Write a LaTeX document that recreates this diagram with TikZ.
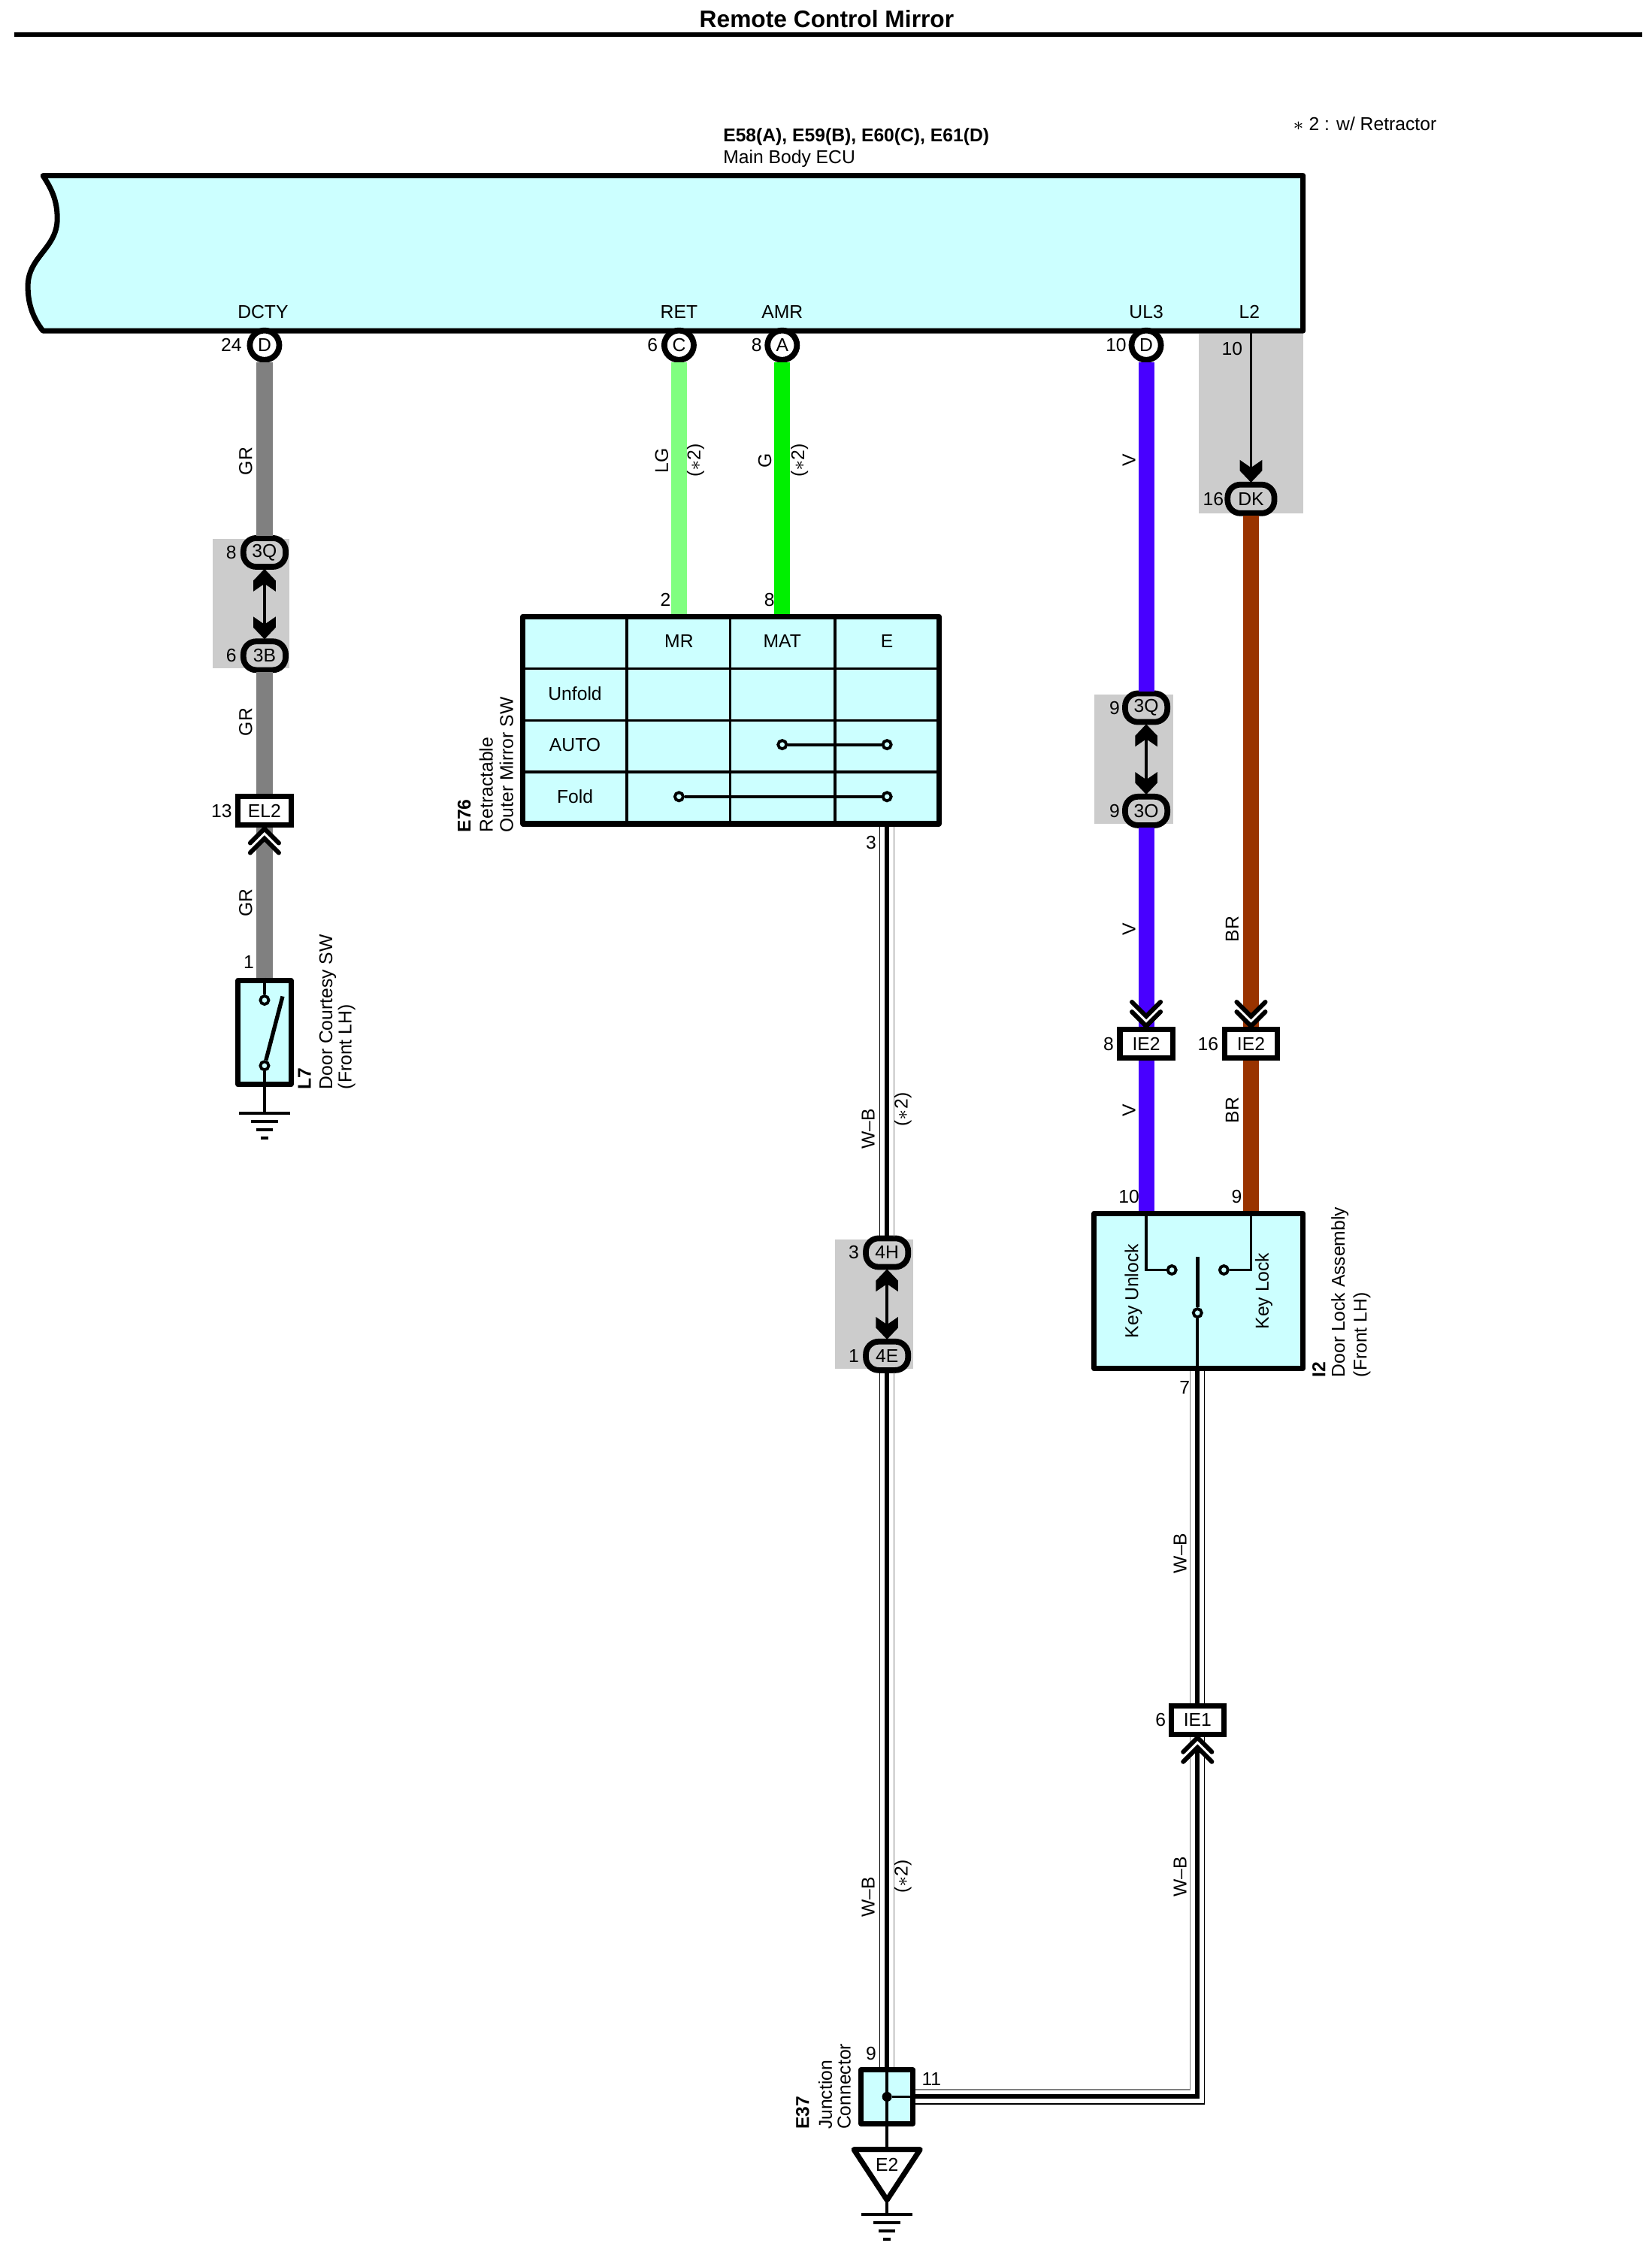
\documentclass[tikz,border=0pt]{standalone}
\usepackage{fontspec}
\setmainfont{Liberation Sans}
\usetikzlibrary{arrows.meta,calc}

\definecolor{bodycyan}{HTML}{CCFFFF}
\definecolor{jbgray}{HTML}{CCCCCC}
\definecolor{wireGR}{HTML}{808080}
\definecolor{wireLG}{HTML}{80FF80}
\definecolor{wireG}{HTML}{00F000}
\definecolor{wireV}{HTML}{4800FF}
\definecolor{wireBR}{HTML}{993300}

\pgfdeclarearrow{
	name=plughead,
	setup code={\pgfarrowssettipend{0pt}\pgfarrowssetlineend{-3pt}\pgfarrowssetbackend{-8.5pt}\pgfarrowssetvisualbackend{-5.6pt}\pgfarrowshullpoint{0pt}{0pt}},
	drawing code={
		\pgfpathmoveto{\pgfpoint{0pt}{0pt}}
		\pgfpathlineto{\pgfpoint{-4.4pt}{4.2pt}}
		\pgfpathlineto{\pgfpoint{-8.5pt}{4.2pt}}
		\pgfpathlineto{\pgfpoint{-5.6pt}{0pt}}
		\pgfpathlineto{\pgfpoint{-8.5pt}{-4.2pt}}
		\pgfpathlineto{\pgfpoint{-4.4pt}{-4.2pt}}
		\pgfpathclose
		\pgfusepathqfill
	}
}

\begin{document}
\begin{tikzpicture}[
  x=0.01cm, y=-0.01cm,
  every node/.style={font=\fontsize{7}{8}\selectfont, inner sep=0pt},
  vlbl/.style={rotate=90},
  vname/.style={rotate=90, anchor=west},
  vbold/.style={rotate=90, anchor=west, font=\fontsize{7}{8}\selectfont\bfseries},
  jbox/.style={fill=jbgray},
  outline/.style={draw, line width=2pt, fill=bodycyan, line join=round},
  grid/.style={line width=1pt},
  pin/.style={draw, circle, line width=2.2pt, fill=white, minimum size=0.39cm, outer sep=0.8pt},
  plug/.style={draw, rectangle, rounded corners=0.17cm, line width=2.2pt, fill=jbgray, minimum width=0.56cm, minimum height=0.38cm, outer sep=0.8pt},
  tagbox/.style={draw, rectangle, line width=2pt, fill=white, minimum width=0.7cm, minimum height=0.38cm},
  contact/.style={draw, circle, line width=1.1pt, fill=bodycyan, minimum size=0.11cm},
  link/.style={line width=1.1pt},
  bigwire/.style={line width=6pt},
  wbcore/.style={line width=1.7pt},
  wbblack/.style={line width=0.35pt, black},
  wbgray/.style={line width=0.35pt, gray},
  chevron/.pic={
	\fill [white] (-21,20) -- (0,0) -- (21,20) -- (21,34) -- (0,14) -- (-21,34) -- cycle;
	\draw [line width=1.7pt, line cap=round, line join=miter] (-19,20) -- (0,1) -- (19,20);
	\draw [line width=1.7pt, line cap=round, line join=miter] (-19,33) -- (0,14) -- (19,33);
  },
  earth/.pic={
	\draw [line width=1pt] (-34,0) -- (34,0);
	\draw [line width=1pt] (-18,11) -- (18,11);
	\draw [line width=1pt] (-11,22) -- (11,22);
	\draw [line width=1pt] (-5,33) -- (5,33);
  },
]

\useasboundingbox (0,0) rectangle (2192,2992);

% heading
\node [font=\fontsize{9}{10}\selectfont\bfseries] (title) at (1097,25) {Remote Control Mirror};
\draw [line width=1.7pt] (19,46) -- (2179,46);
\node [anchor=west, font=\fontsize{7}{8}\selectfont\bfseries] (ecuname) at (959,182) {E58(A), E59(B), E60(C), E61(D)};
\node [anchor=west] (ecutext) at (959,211) {Main Body ECU};
\node [anchor=west] (note) at (1715,164) {$*$ 2 : w/ Retractor};

% grey junction blocks
\fill [jbox] (282,715) rectangle (384,887);
\fill [jbox] (1591,443) rectangle (1729,681);
\fill [jbox] (1452,922) rectangle (1557,1093);
\fill [jbox] (1108,1645) rectangle (1212,1816);

% body ECU
\draw [outline] (57,233) -- (1729,233) -- (1729,439) -- (57,439)
	.. controls (42,420) and (37,400) .. (37,380)
	.. controls (37,340) and (76,330) .. (76,290)
	.. controls (76,265) and (68,250) .. (57,233) -- cycle;
\node (tDCTY) at (349,414) {DCTY};
\node (tRET) at (901,414) {RET};
\node (tAMR) at (1038,414) {AMR};
\node (tUL3) at (1521,414) {UL3};
\node (tL2) at (1658,414) {L2};
\coordinate (ecuL2) at (1660,439);

% ECU pins
\node [pin] (pD1) at (351,458) {D};
\node [pin] (pC) at (901,458) {C};
\node [pin] (pA) at (1038,458) {A};
\node [pin] (pD2) at (1521,458) {D};
\node (n24) at (307,458) {24};
\node (n6a) at (866,458) {6};
\node (n8a) at (1004,458) {8};
\node (n10a) at (1481,458) {10};
\node (n10b) at (1635,463) {10};

% left branch
\node [plug] (p3Q) at (351,733) {3Q};
\node [plug] (p3B) at (351,870) {3B};
\node [tagbox] (tEL2) at (351,1076) {EL2};
\node (n8b) at (307,733) {8};
\node (n6b) at (307,870) {6};
\node (n13) at (294,1076) {13};
\node (n1a) at (330,1277) {1};
\node [vlbl] (wGR1) at (326,612) {GR};
\node [vlbl] (wGR2) at (326,958) {GR};
\node [vlbl] (wGR3) at (326,1198) {GR};
\node [outline, draw, rectangle, minimum width=0.7cm, minimum height=1.38cm] (sL7) at (351,1370) {};
\node [contact] (cL7a) at (351,1327) {};
\node [contact] (cL7b) at (351,1414) {};
\coordinate (gL7) at (351,1477);
\coordinate (bladeL7) at (375,1322);
\node [vbold] (nL7) at (404,1446) {L7};
\node [vname] (nL7a) at (435,1446) {Door Courtesy SW};
\node [vname] (nL7b) at (460,1446) {(Front LH)};

\draw [bigwire, wireGR] (pD1.south) -- (p3Q.north);
\draw [bigwire, wireGR] (p3B.south) -- (tEL2.north);
\draw [bigwire, wireGR] (tEL2.south) -- (sL7.north);
\draw [link, {plughead}-{plughead}] (p3Q.south) -- (p3B.north);
\pic at (tEL2.south) {chevron};
\draw [link] (sL7.north) -- (cL7a.north);
\draw [link, line width=1.5pt] (cL7b) -- (bladeL7);
\draw [link] (cL7b.south) -- (gL7);
\pic at (gL7) {earth};

% retractable mirror switch
\node [outline, draw, rectangle, minimum width=5.52cm, minimum height=2.75cm] (e76) at (970,955.5) {};
\draw [grid] (832,820) -- (832,1091);
\draw [grid] (969,820) -- (969,1091);
\draw [grid] (1108,820) -- (1108,1091);
\draw [grid] (696,887) -- (1244,887);
\draw [grid] (696,956) -- (1244,956);
\draw [grid] (696,1024) -- (1244,1024);
\node (tMR) at (901,851) {MR};
\node (tMAT) at (1038,851) {MAT};
\node (tE) at (1177,851) {E};
\node (tUnfold) at (763,920) {Unfold};
\node (tAUTO) at (763,988) {AUTO};
\node (tFold) at (763,1057) {Fold};
\node [contact] (cAa) at (1038,988) {};
\node [contact] (cAb) at (1177,988) {};
\node [contact] (cFa) at (901,1057) {};
\node [contact] (cFb) at (1177,1057) {};
\draw [link] (cAa) -- (cAb);
\draw [link] (cFa) -- (cFb);
\node [vbold] (nE76) at (616,1105) {E76};
\node [vname] (nE76a) at (645,1105) {Retractable};
\node [vname] (nE76b) at (672,1105) {Outer Mirror SW};
\node (n2) at (883,796) {2};
\node (n8c) at (1021,796) {8};
\node (n3a) at (1156,1118) {3};

\draw [bigwire, wireLG] (pC.south) -- (pC |- e76.north);
\draw [bigwire, wireG] (pA.south) -- (pA |- e76.north);
\node [vlbl] (wLG) at (878,611) {LG};
\node [vlbl] (wLGn) at (923,611) {($*$2)};
\node [vlbl] (wG) at (1015,611) {G};
\node [vlbl] (wGn) at (1061,611) {($*$2)};

% door lock branch
\node [plug] (p3Qb) at (1521,939) {3Q};
\node [plug] (p3O) at (1521,1076) {3O};
\node [plug, minimum width=0.62cm] (pDK) at (1660,662) {DK};
\node [tagbox] (tIE2a) at (1521,1385) {IE2};
\node [tagbox] (tIE2b) at (1660,1385) {IE2};
\node (n9a) at (1479,939) {9};
\node (n9b) at (1479,1076) {9};
\node (n16a) at (1610,662) {16};
\node (n8d) at (1471,1385) {8};
\node (n16b) at (1603,1385) {16};
\node (n10c) at (1498,1588) {10};
\node (n9c) at (1641,1588) {9};
\node [vlbl] (wV1) at (1498,611) {V};
\node [vlbl] (wV2) at (1498,1233) {V};
\node [vlbl] (wV3) at (1498,1473) {V};
\node [vlbl] (wBR1) at (1635,1233) {BR};
\node [vlbl] (wBR2) at (1635,1473) {BR};
\node [outline, draw, rectangle, minimum width=2.77cm, minimum height=2.06cm] (i2) at (1590.5,1713) {};
\node [vlbl] (tKU) at (1504,1713) {Key Unlock};
\node [vlbl] (tKL) at (1677,1713) {Key Lock};
\node [contact] (cKa) at (1555,1685) {};
\node [contact] (cKb) at (1624,1685) {};
\node [contact] (cKc) at (1589,1742) {};
\coordinate (bladeK) at (1589,1668);
\node [vbold] (nI2) at (1750,1828) {I2};
\node [vname] (nI2a) at (1778,1828) {Door Lock Assembly};
\node [vname] (nI2b) at (1807,1828) {(Front LH)};
\node (n7) at (1572,1841) {7};

\draw [bigwire, wireV] (pD2.south) -- (p3Qb.north);
\draw [bigwire, wireV] (p3O.south) -- (tIE2a.north);
\draw [bigwire, wireV] (tIE2a.south) -- (tIE2a |- i2.north);
\draw [bigwire, wireBR] (pDK.south) -- (tIE2b.north);
\draw [bigwire, wireBR] (tIE2b.south) -- (tIE2b |- i2.north);
\draw [link, {plughead}-{plughead}] (p3Qb.south) -- (p3O.north);
\draw [link, -{plughead}] (ecuL2) -- (pDK.north);
\pic [yscale=-1] at (tIE2a.north) {chevron};
\pic [yscale=-1] at (tIE2b.north) {chevron};
\draw [link] (tIE2a |- i2.north) |- (cKa.west);
\draw [link] (tIE2b |- i2.north) |- (cKb.east);
\draw [link, line width=1.5pt] (cKc) -- (bladeK);
\draw [link] (cKc.south) -- (cKc |- i2.south);

% W-B wires to the junction connector
\node [plug] (p4H) at (1177,1662) {4H};
\node [plug] (p4E) at (1177,1799) {4E};
\node (n3b) at (1133,1662) {3};
\node (n1b) at (1133,1799) {1};
\node [tagbox] (tIE1) at (1589,2282) {IE1};
\node (n6c) at (1540,2282) {6};
\node [outline, draw, rectangle, minimum width=0.69cm, minimum height=0.71cm] (jc) at (1177,2782) {};
\node [fill, circle, minimum size=0.13cm] (splice) at (1177,2782) {};
\coordinate (wbturn) at (1589,2782);
\node (n9d) at (1156,2725) {9};
\node (n11) at (1236,2759) {11};
\node [vbold] (nE37) at (1065,2826) {E37};
\node [vname] (nE37a) at (1095,2826) {Junction};
\node [vname] (nE37b) at (1120,2826) {Connector};
\node [vlbl] (wWB1) at (1152,1498) {W--B};
\node [vlbl] (wWB1n) at (1198,1472) {($*$2)};
\node [vlbl] (wWB2) at (1152,2517) {W--B};
\node [vlbl] (wWB2n) at (1198,2490) {($*$2)};
\node [vlbl] (wWB3) at (1566,2061) {W--B};
\node [vlbl] (wWB4) at (1566,2490) {W--B};

\draw [wbcore] (tE |- e76.south) -- (p4H.north);
\draw [wbblack] ([xshift=-2.7pt]tE |- e76.south) -- ([xshift=-2.7pt]p4H.north);
\draw [wbgray] ([xshift=2.7pt]tE |- e76.south) -- ([xshift=2.7pt]p4H.north);
\draw [link, {plughead}-{plughead}] (p4H.south) -- (p4E.north);
\draw [wbcore] (p4E.south) -- (jc.north);
\draw [wbblack] ([xshift=-2.7pt]p4E.south) -- ([xshift=-2.7pt]jc.north);
\draw [wbgray] ([xshift=2.7pt]p4E.south) -- ([xshift=2.7pt]jc.north);

\draw [wbcore] (cKc |- i2.south) -- (tIE1.north);
\draw [wbgray] ([xshift=-2.7pt]cKc |- i2.south) -- ([xshift=-2.7pt]tIE1.north);
\draw [wbblack] ([xshift=2.7pt]cKc |- i2.south) -- ([xshift=2.7pt]tIE1.north);
\draw [wbcore] (tIE1.south) -- (wbturn) -- (jc.east);
\draw [wbgray] ([xshift=-2.7pt]tIE1.south) -- ([xshift=-2.7pt,yshift=2.7pt]wbturn) -- ([yshift=2.7pt]jc.east);
\draw [wbblack] ([xshift=2.7pt]tIE1.south) -- ([xshift=2.7pt,yshift=-2.7pt]wbturn) -- ([yshift=-2.7pt]jc.east);
\pic at (tIE1.south) {chevron};

% ground E2
\draw [link] (jc.north) -- (jc.south);
\draw [link] (splice) -- (jc.east);
\coordinate (triA) at (1133,2852);
\coordinate (triB) at (1221,2852);
\coordinate (triC) at (1177,2919);
\coordinate (triTop) at (1177,2852);
\coordinate (gE2) at (1177,2938);
\draw [line width=2pt, line join=round] (triA) -- (triB) -- (triC) -- cycle;
\node (tE2) at (1177,2872) {E2};
\draw [link] (jc.south) -- (triTop);
\draw [link] (triC) -- (gE2);
\pic at (gE2) {earth};

\end{tikzpicture}
\end{document}
